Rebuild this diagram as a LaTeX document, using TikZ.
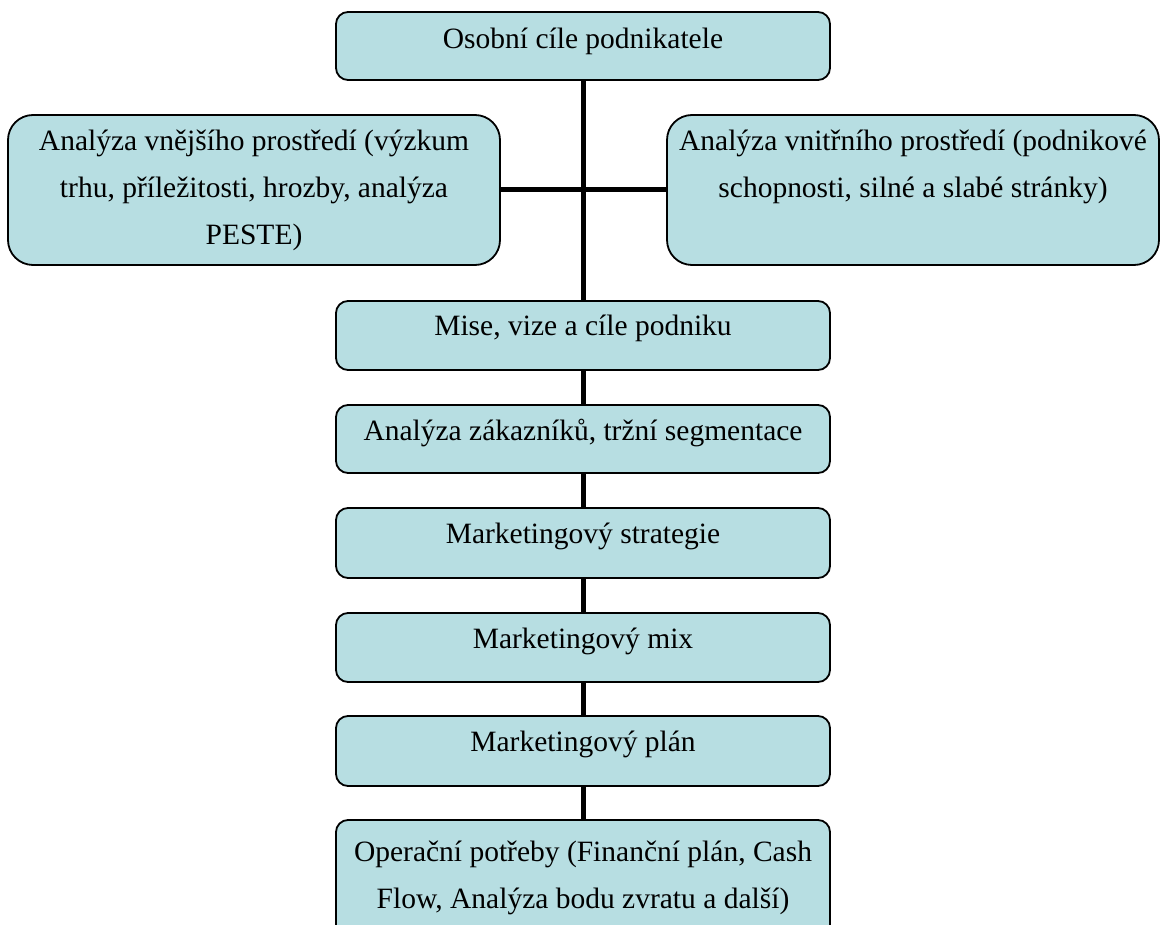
\documentclass[tikz,border=0pt]{standalone}
\usepackage{fontspec}
\setmainfont{Liberation Serif}
\definecolor{boxfill}{RGB}{183,222,226}
\begin{document}
\begin{tikzpicture}[x=1pt,y=-1pt,
  box/.style={draw=black, line width=1.8pt, fill=boxfill, rounded corners=12pt,
    inner sep=0pt, minimum width=494pt},
  bigbox/.style={box, rounded corners=25pt, minimum width=492pt, minimum height=150pt},
  txt/.style={anchor=north, inner sep=0pt, align=center,
    font=\fontsize{29.5}{47}\selectfont},
  link/.style={line width=5pt}]
\useasboundingbox (0,0) rectangle (1160,925);

% chain of steps
\node[box, minimum height=68pt] (goals) at (583,46) {};
\node[bigbox] (external) at (254,190) {};
\node[bigbox] (internal) at (913,190) {};
\node[box, minimum height=69pt] (mission) at (583,335.5) {};
\node[box, minimum height=68pt] (customers) at (583,439) {};
\node[box, minimum height=70pt] (strategy) at (583,543) {};
\node[box, minimum height=69pt] (mix) at (583,647.5) {};
\node[box, minimum height=70pt] (plan) at (583,751) {};
\node[box, minimum height=120pt] (operations) at (583,880) {};

% connectors
\draw[link] (goals) -- (mission);
\draw[link] (external) -- (internal);
\draw[link] (mission) -- (customers);
\draw[link] (customers) -- (strategy);
\draw[link] (strategy) -- (mix);
\draw[link] (mix) -- (plan);
\draw[link] (plan) -- (operations);

% texts, first baseline about 36 below the box top
\node[txt] (tgoals) at ([yshift=-4pt]goals.north) {\strut Osobní cíle podnikatele};
\node[txt] (texternal) at ([yshift=-3pt]external.north) {\strut Analýza vnějšího prostředí (výzkum\\trhu, příležitosti, hrozby, analýza\\PESTE)};
\node[txt] (tinternal) at ([yshift=-3pt]internal.north) {\strut Analýza vnitřního prostředí (podnikové\\schopnosti, silné a slabé stránky)};
\node[txt] (tmission) at ([yshift=-2pt]mission.north) {\strut Mise, vize a cíle podniku};
\node[txt] (tcustomers) at ([yshift=-3pt]customers.north) {\strut Analýza zákazníků, tržní segmentace};
\node[txt] (tstrategy) at ([yshift=-3pt]strategy.north) {\strut Marketingový strategie};
\node[txt] (tmix) at ([yshift=-3pt]mix.north) {\strut Marketingový mix};
\node[txt] (tplan) at ([yshift=-3pt]plan.north) {\strut Marketingový plán};
\node[txt] (toperations) at ([yshift=-9pt]operations.north) {\strut Operační potřeby (Finanční plán, Cash\\Flow, Analýza bodu zvratu a další)};
\end{tikzpicture}
\end{document}
